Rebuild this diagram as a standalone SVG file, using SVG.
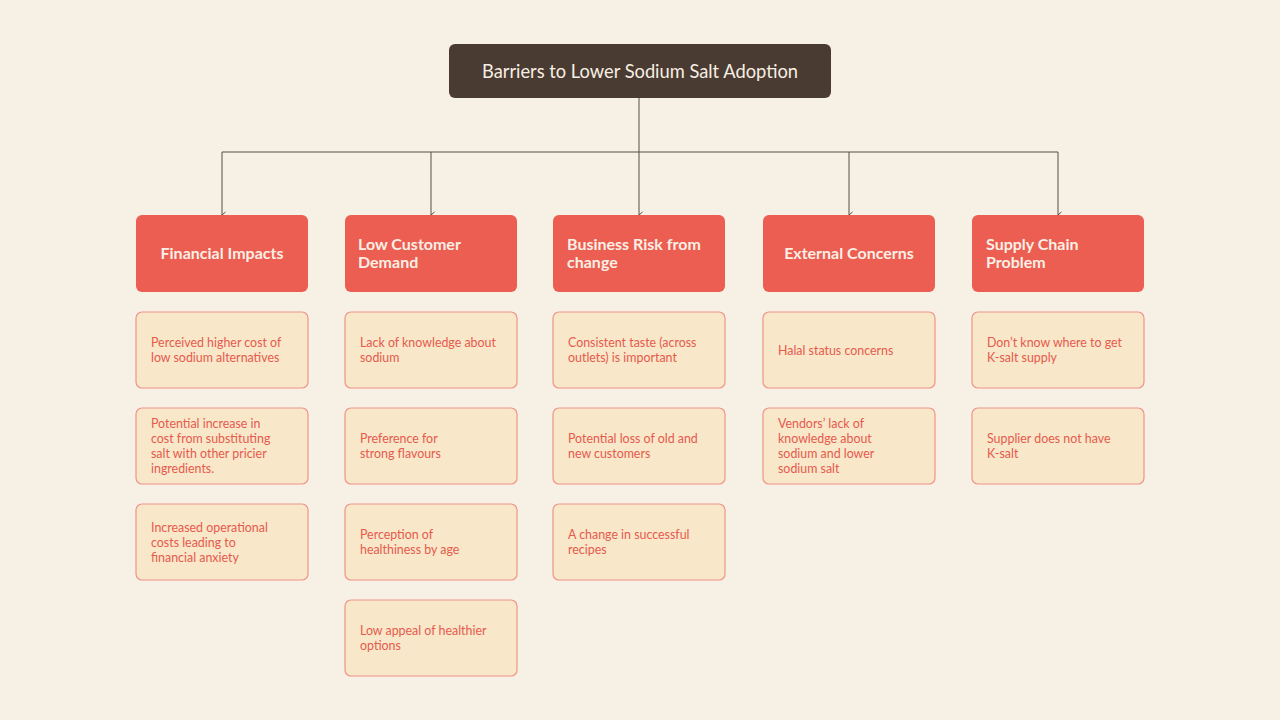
<svg xmlns="http://www.w3.org/2000/svg" width="1280" height="720" viewBox="0 0 1280 720">
<defs>
<marker id="arr" viewBox="0 0 8 8" refX="4" refY="7.5" markerWidth="8" markerHeight="8" markerUnits="userSpaceOnUse" orient="auto-start-reverse">
<path d="M1,4 L4,7.5 L7,4" fill="none" stroke="#5a4d44" stroke-width="1"/>
</marker>
<style>
.root rect{fill:#4a3b32}
.root text{fill:#f7efe3;font-family:Lato,"Noto Sans",sans-serif;font-size:18.3px}
.cat rect{fill:#eb5e51}
.cat text{fill:#fbefe6;font-family:Lato,"Noto Sans",sans-serif;font-size:16px;font-weight:bold}
.item rect{fill:#f8e7c8;stroke:#f0948a;stroke-width:1.2}
.item text{fill:#e65a4e;font-family:Lato,"Noto Sans",sans-serif;font-size:12.4px}
.conn path{fill:none;stroke:#5a4d44;stroke-width:1}
</style>
</defs>
<rect width="1280" height="720" fill="#f7f0e4"/>
<g class="conn">
<path d="M639,98 V152"/>
<path d="M222,152 H1058"/>
<path d="M222,152 V215" marker-end="url(#arr)"/>
<path d="M431,152 V215" marker-end="url(#arr)"/>
<path d="M639,152 V215" marker-end="url(#arr)"/>
<path d="M849,152 V215" marker-end="url(#arr)"/>
<path d="M1058,152 V215" marker-end="url(#arr)"/>
</g>
<g id="root" class="root"><rect x="449" y="44" width="382" height="54" rx="6"/><text x="640" y="78" text-anchor="middle">Barriers to Lower Sodium Salt Adoption</text></g>

<g id="c1" class="cat"><rect x="136" y="215" width="172" height="77" rx="6"/><text x="222" y="259" text-anchor="middle">Financial Impacts</text></g>
<g id="c2" class="cat"><rect x="345" y="215" width="172" height="77" rx="6"/><text x="358" y="250">Low Customer</text><text x="358" y="268">Demand</text></g>
<g id="c3" class="cat"><rect x="553" y="215" width="172" height="77" rx="6"/><text x="567" y="250">Business Risk from</text><text x="567" y="268">change</text></g>
<g id="c4" class="cat"><rect x="763" y="215" width="172" height="77" rx="6"/><text x="849" y="259" text-anchor="middle">External Concerns</text></g>
<g id="c5" class="cat"><rect x="972" y="215" width="172" height="77" rx="6"/><text x="986" y="250">Supply Chain</text><text x="986" y="268">Problem</text></g>

<g id="i11" class="item"><rect x="136" y="312" width="172" height="76" rx="6"/><text x="151" y="347">Perceived higher cost of</text><text x="151" y="362">low sodium alternatives</text></g>
<g id="i12" class="item"><rect x="136" y="408" width="172" height="76" rx="6"/><text x="151" y="428">Potential increase in</text><text x="151" y="443">cost from substituting</text><text x="151" y="458">salt with other pricier</text><text x="151" y="473">ingredients.</text></g>
<g id="i13" class="item"><rect x="136" y="504" width="172" height="76" rx="6"/><text x="151" y="532">Increased operational</text><text x="151" y="547">costs leading to</text><text x="151" y="562">financial anxiety</text></g>

<g id="i21" class="item"><rect x="345" y="312" width="172" height="76" rx="6"/><text x="360" y="347">Lack of knowledge about</text><text x="360" y="362">sodium</text></g>
<g id="i22" class="item"><rect x="345" y="408" width="172" height="76" rx="6"/><text x="360" y="443">Preference for</text><text x="360" y="458">strong flavours</text></g>
<g id="i23" class="item"><rect x="345" y="504" width="172" height="76" rx="6"/><text x="360" y="539">Perception of</text><text x="360" y="554">healthiness by age</text></g>
<g id="i24" class="item"><rect x="345" y="600" width="172" height="76" rx="6"/><text x="360" y="635">Low appeal of healthier</text><text x="360" y="650">options</text></g>

<g id="i31" class="item"><rect x="553" y="312" width="172" height="76" rx="6"/><text x="568" y="347">Consistent taste (across</text><text x="568" y="362">outlets) is important</text></g>
<g id="i32" class="item"><rect x="553" y="408" width="172" height="76" rx="6"/><text x="568" y="443">Potential loss of old and</text><text x="568" y="458">new customers</text></g>
<g id="i33" class="item"><rect x="553" y="504" width="172" height="76" rx="6"/><text x="568" y="539">A change in successful</text><text x="568" y="554">recipes</text></g>

<g id="i41" class="item"><rect x="763" y="312" width="172" height="76" rx="6"/><text x="778" y="355">Halal status concerns</text></g>
<g id="i42" class="item"><rect x="763" y="408" width="172" height="76" rx="6"/><text x="778" y="428">Vendors’ lack of</text><text x="778" y="443">knowledge about</text><text x="778" y="458">sodium and lower</text><text x="778" y="473">sodium salt</text></g>

<g id="i51" class="item"><rect x="972" y="312" width="172" height="76" rx="6"/><text x="987" y="347">Don’t know where to get</text><text x="987" y="362">K-salt supply</text></g>
<g id="i52" class="item"><rect x="972" y="408" width="172" height="76" rx="6"/><text x="987" y="443">Supplier does not have</text><text x="987" y="458">K-salt</text></g>
</svg>
